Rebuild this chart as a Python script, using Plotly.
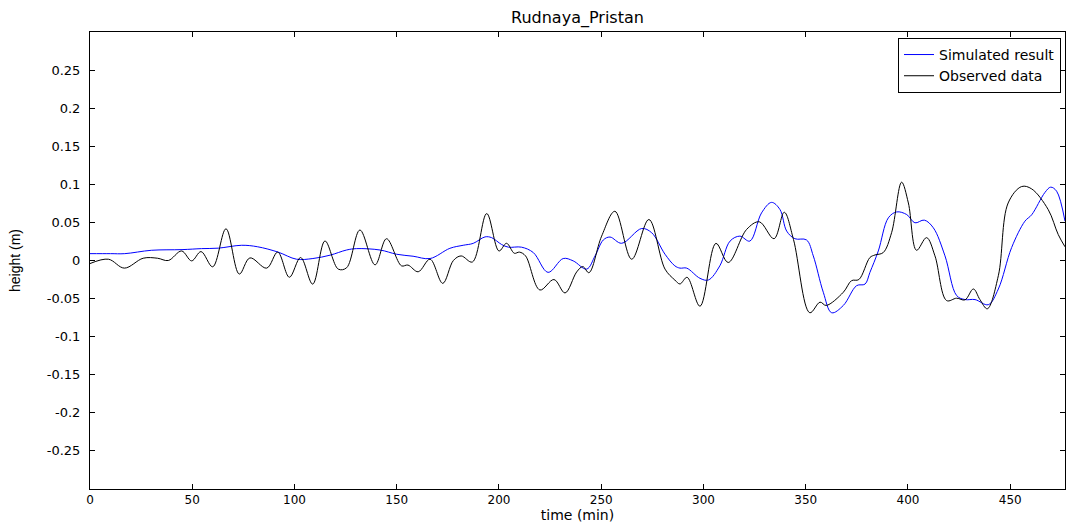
import plotly.graph_objects as go

# Observed data (black)
obs_t = [0, 9, 16.8, 26, 33, 38.3, 44.8, 49.7, 54.3, 60, 66.5, 73, 78.2, 86.4, 91.8,
         97.5, 103, 108.9, 114.9, 121.4, 125.5, 132, 139.4, 145, 152.3, 155.5, 160.5, 166.3,
         172.5, 177.7, 181.5, 187, 194, 200, 203.7, 207.5, 210, 213, 220, 226.9, 232.3,
         238, 241, 244, 250.2, 256.7, 264.9, 273.3, 281.2, 286, 288.5, 292, 298.3, 306.1,
         312.1, 321.1, 327.3, 334.5, 339.5, 344, 352, 357, 360, 368.4, 372.4, 376, 381.4,
         383.9, 387.9, 392, 396.9, 400.2, 404.2, 409.1, 413.2, 418.9, 423.8, 427.9, 432,
         435.2, 438.8, 444.2, 449, 455.6, 460.5, 468.6, 473.5, 476.8]
obs_h = [-0.004, 0.0017, -0.010, 0.003, 0.003, 0.0, 0.0125, -0.0005, 0.0117, -0.0083, 0.0416,
         -0.0178, 0.0034, -0.010, 0.011,
         -0.022, 0.0039, -0.031, 0.0256, -0.0113, -0.0095, 0.040, -0.0057, 0.0286, -0.007,
         -0.006, -0.0148, 0.0017,
         -0.030, 0.0, 0.006, -0.002, 0.0616, 0.0125, 0.0226, 0.0095, 0.011, 0.006, -0.0387,
         -0.025, -0.0426,
         -0.015, -0.008, -0.016, 0.032, 0.0646, 0.0017, 0.0538, -0.0113, -0.0256, -0.0308,
         -0.0221, -0.060, 0.0225,
         -0.0026, 0.0408, 0.0508, 0.0286, 0.0633, 0.0278, -0.0686, -0.0547, -0.059, -0.0417,
         -0.0265, -0.025, 0.0039,
         0.0073, 0.0104, 0.0365, 0.1028, 0.0755, 0.0134, 0.030, 0.0061, -0.0526, -0.0495,
         -0.0517, -0.0374,
         -0.0513, -0.0634, -0.020, 0.0755, 0.0971, 0.094, 0.0668, 0.034, 0.018]

# Simulated result (blue)
sim_t = [0, 10, 17, 30, 45, 54.6, 62.7, 74.2, 82, 92, 101, 109, 117.4, 125.5, 130.4, 141.8,
         150, 158, 166.3, 176, 182.5, 187.4, 193.2, 196.4, 201.3, 204.6, 211, 216.8, 224,
         231.4, 236.3, 242.9, 247, 251, 254.3, 260, 269.8, 274.7, 281.2, 286, 288.5, 291.8,
         298.3, 302.4, 308, 313, 317.8, 322.7, 328.4, 333.3, 337.4, 340.7, 344.7, 350.4,
         353.7, 358.6, 362.7, 368.4, 374.9, 379, 381.4, 385.5, 390.4, 394.5, 399.4, 403.4,
         408, 412.4, 418.1, 423.8, 427.9, 432.8, 439.3, 444.2, 450.7, 457.2, 460.5, 467,
         469.8, 472.7, 476.8]
sim_h = [0.009, 0.009, 0.009, 0.0134, 0.0143, 0.0156, 0.0162, 0.020, 0.018, 0.011, 0.0017,
         0.0026, 0.007, 0.0138, 0.0156, 0.0138,
         0.0082, 0.0056, 0.0026, 0.016, 0.020, 0.0225, 0.031, 0.030, 0.021, 0.0175, 0.0175,
         0.0104, -0.0156,
         0.0026, -0.0005, -0.0113, 0.0061, 0.0269, 0.0308, 0.0226, 0.042, 0.0364, 0.0082,
         -0.007, -0.010, -0.010,
         -0.0234, -0.0256, -0.007, 0.0255, 0.032, 0.0255, 0.0625, 0.0763, 0.067, 0.0386,
         0.0286, 0.027,
         0.0061, -0.0417, -0.0686, -0.059, -0.033, -0.031, -0.0156, 0.0125, 0.056, 0.0638,
         0.0603, 0.0495,
         0.053, 0.043, 0.0061, -0.046, -0.0513, -0.0513, -0.058, -0.0374, 0.017, 0.0516,
         0.060, 0.0894,
         0.0963, 0.091, 0.0516]

x_ticks = [0, 50, 100, 150, 200, 250, 300, 350, 400, 450]
y_ticks = [0.25, 0.2, 0.15, 0.1, 0.05, 0, -0.05, -0.1, -0.15, -0.2, -0.25]
y_tick_text = ["0.25", "0.2", "0.15", "0.1", "0.05", "0", "-0.05", "-0.1", "-0.15", "-0.2", "-0.25"]

wide_font = "DejaVu Sans, Verdana, sans-serif"
narrow_font = "Liberation Sans, Arial, Helvetica, sans-serif"

fig = go.Figure()
fig.add_trace(go.Scatter(x=sim_t, y=sim_h, mode="lines", name="Simulated result",
                         line=dict(color="#0000ff", width=1, shape="spline", smoothing=1.0)))
fig.add_trace(go.Scatter(x=obs_t, y=obs_h, mode="lines", name="Observed data",
                         line=dict(color="#000000", width=1, shape="spline", smoothing=1.0)))

axis_common = dict(showline=True, linecolor="black", linewidth=1, mirror="ticks",
                   ticks="inside", ticklen=5, tickcolor="black", showgrid=False,
                   zeroline=False)

fig.update_layout(
    width=1066, height=523,
    margin=dict(l=90, r=1, t=32, b=34),
    paper_bgcolor="white", plot_bgcolor="white",
    font=dict(family=wide_font, size=13, color="black"),
    title=dict(text="Rudnaya_Pristan", x=0.5417, xanchor="center", y=0.966, yanchor="middle",
               font=dict(size=16, family=wide_font, color="black")),
    xaxis=dict(range=[0, 476.8], tickvals=x_ticks, ticklabelstandoff=0,
               tickfont=dict(family=wide_font, size=12, color="black"),
               title=dict(text="time (min)", standoff=0, font=dict(size=14, family=wide_font)),
               **axis_common),
    yaxis=dict(range=[-0.3, 0.3], tickvals=y_ticks, ticktext=y_tick_text, ticklabelstandoff=6,
               tickfont=dict(family=wide_font, size=13, color="black"),
               title=dict(text="height (m)", standoff=22, font=dict(size=14, family=narrow_font)),
               **axis_common),
    legend=dict(x=0.9959, xanchor="right", y=0.987, yanchor="top",
                bordercolor="black", borderwidth=1, bgcolor="white",
                font=dict(size=14, family=wide_font), tracegroupgap=0),
    showlegend=True,
)

fig.write_html("out.html", config={"displayModeBar": False},
               post_script="document.body.style.margin='0';document.body.style.overflow='hidden';")
